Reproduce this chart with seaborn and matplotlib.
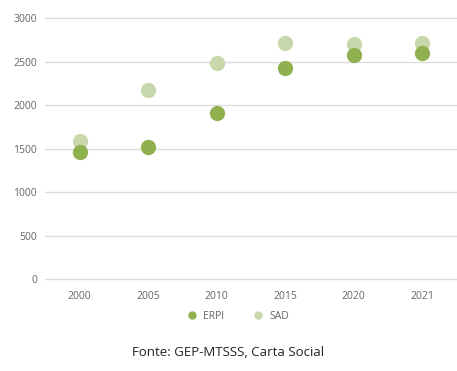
import seaborn as sns
import matplotlib.pyplot as plt
import pandas as pd

anos = ["2000", "2005", "2010", "2015", "2020", "2021"]
erpi = [1460, 1515, 1905, 2425, 2575, 2600]
sad = [1590, 2170, 2490, 2710, 2700, 2720]

df = pd.DataFrame({
    "ano": anos * 2,
    "valor": erpi + sad,
    "resposta": ["ERPI"] * len(anos) + ["SAD"] * len(anos),
})

cores = {"ERPI": "#8fb04e", "SAD": "#c8d8ac"}

sns.set_theme(style="white")
plt.rcParams["font.family"] = ["Open Sans", "DejaVu Sans"]

fig = plt.figure(figsize=(4.57, 3.71), dpi=100)
ax = fig.add_axes([0.099, 0.248, 0.9, 0.703])

# SAD primeiro para o ERPI ficar por cima
for serie in ["SAD", "ERPI"]:
    sns.stripplot(data=df[df["resposta"] == serie], x="ano", y="valor",
                  order=anos, color=cores[serie], jitter=False, size=11,
                  linewidth=0, ax=ax, zorder=3)

ax.set_ylim(0, 3000)
ax.set_xlim(-0.5, 5.5)
ax.set_yticks(range(0, 3001, 500))
ax.yaxis.grid(True, color="#dcdcdc", linewidth=1)
for g in ax.get_ygridlines():
    g.set_clip_on(False)
ax.set_axisbelow(True)
for s in ax.spines.values():
    s.set_visible(False)
ax.tick_params(axis="both", length=0, labelsize=7.5, labelcolor="#666666", pad=6)
ax.tick_params(axis="x", pad=9)
ax.set_xlabel("")
ax.set_ylabel("")

handles = [plt.Line2D([], [], marker="o", linestyle="", markersize=5,
                      color=cores[k], label=k) for k in ["ERPI", "SAD"]]
fig.legend(handles=handles, loc="center", bbox_to_anchor=(0.515, 0.148), ncol=2,
           frameon=False, fontsize=7.5, handletextpad=0.1, columnspacing=2.2,
           labelcolor="#666666")

fig.text(0.5, 0.05, "Fonte: GEP-MTSSS, Carta Social", ha="center", va="center",
         fontsize=9.5, color="#222222")

fig.savefig("out.png", dpi=100)
